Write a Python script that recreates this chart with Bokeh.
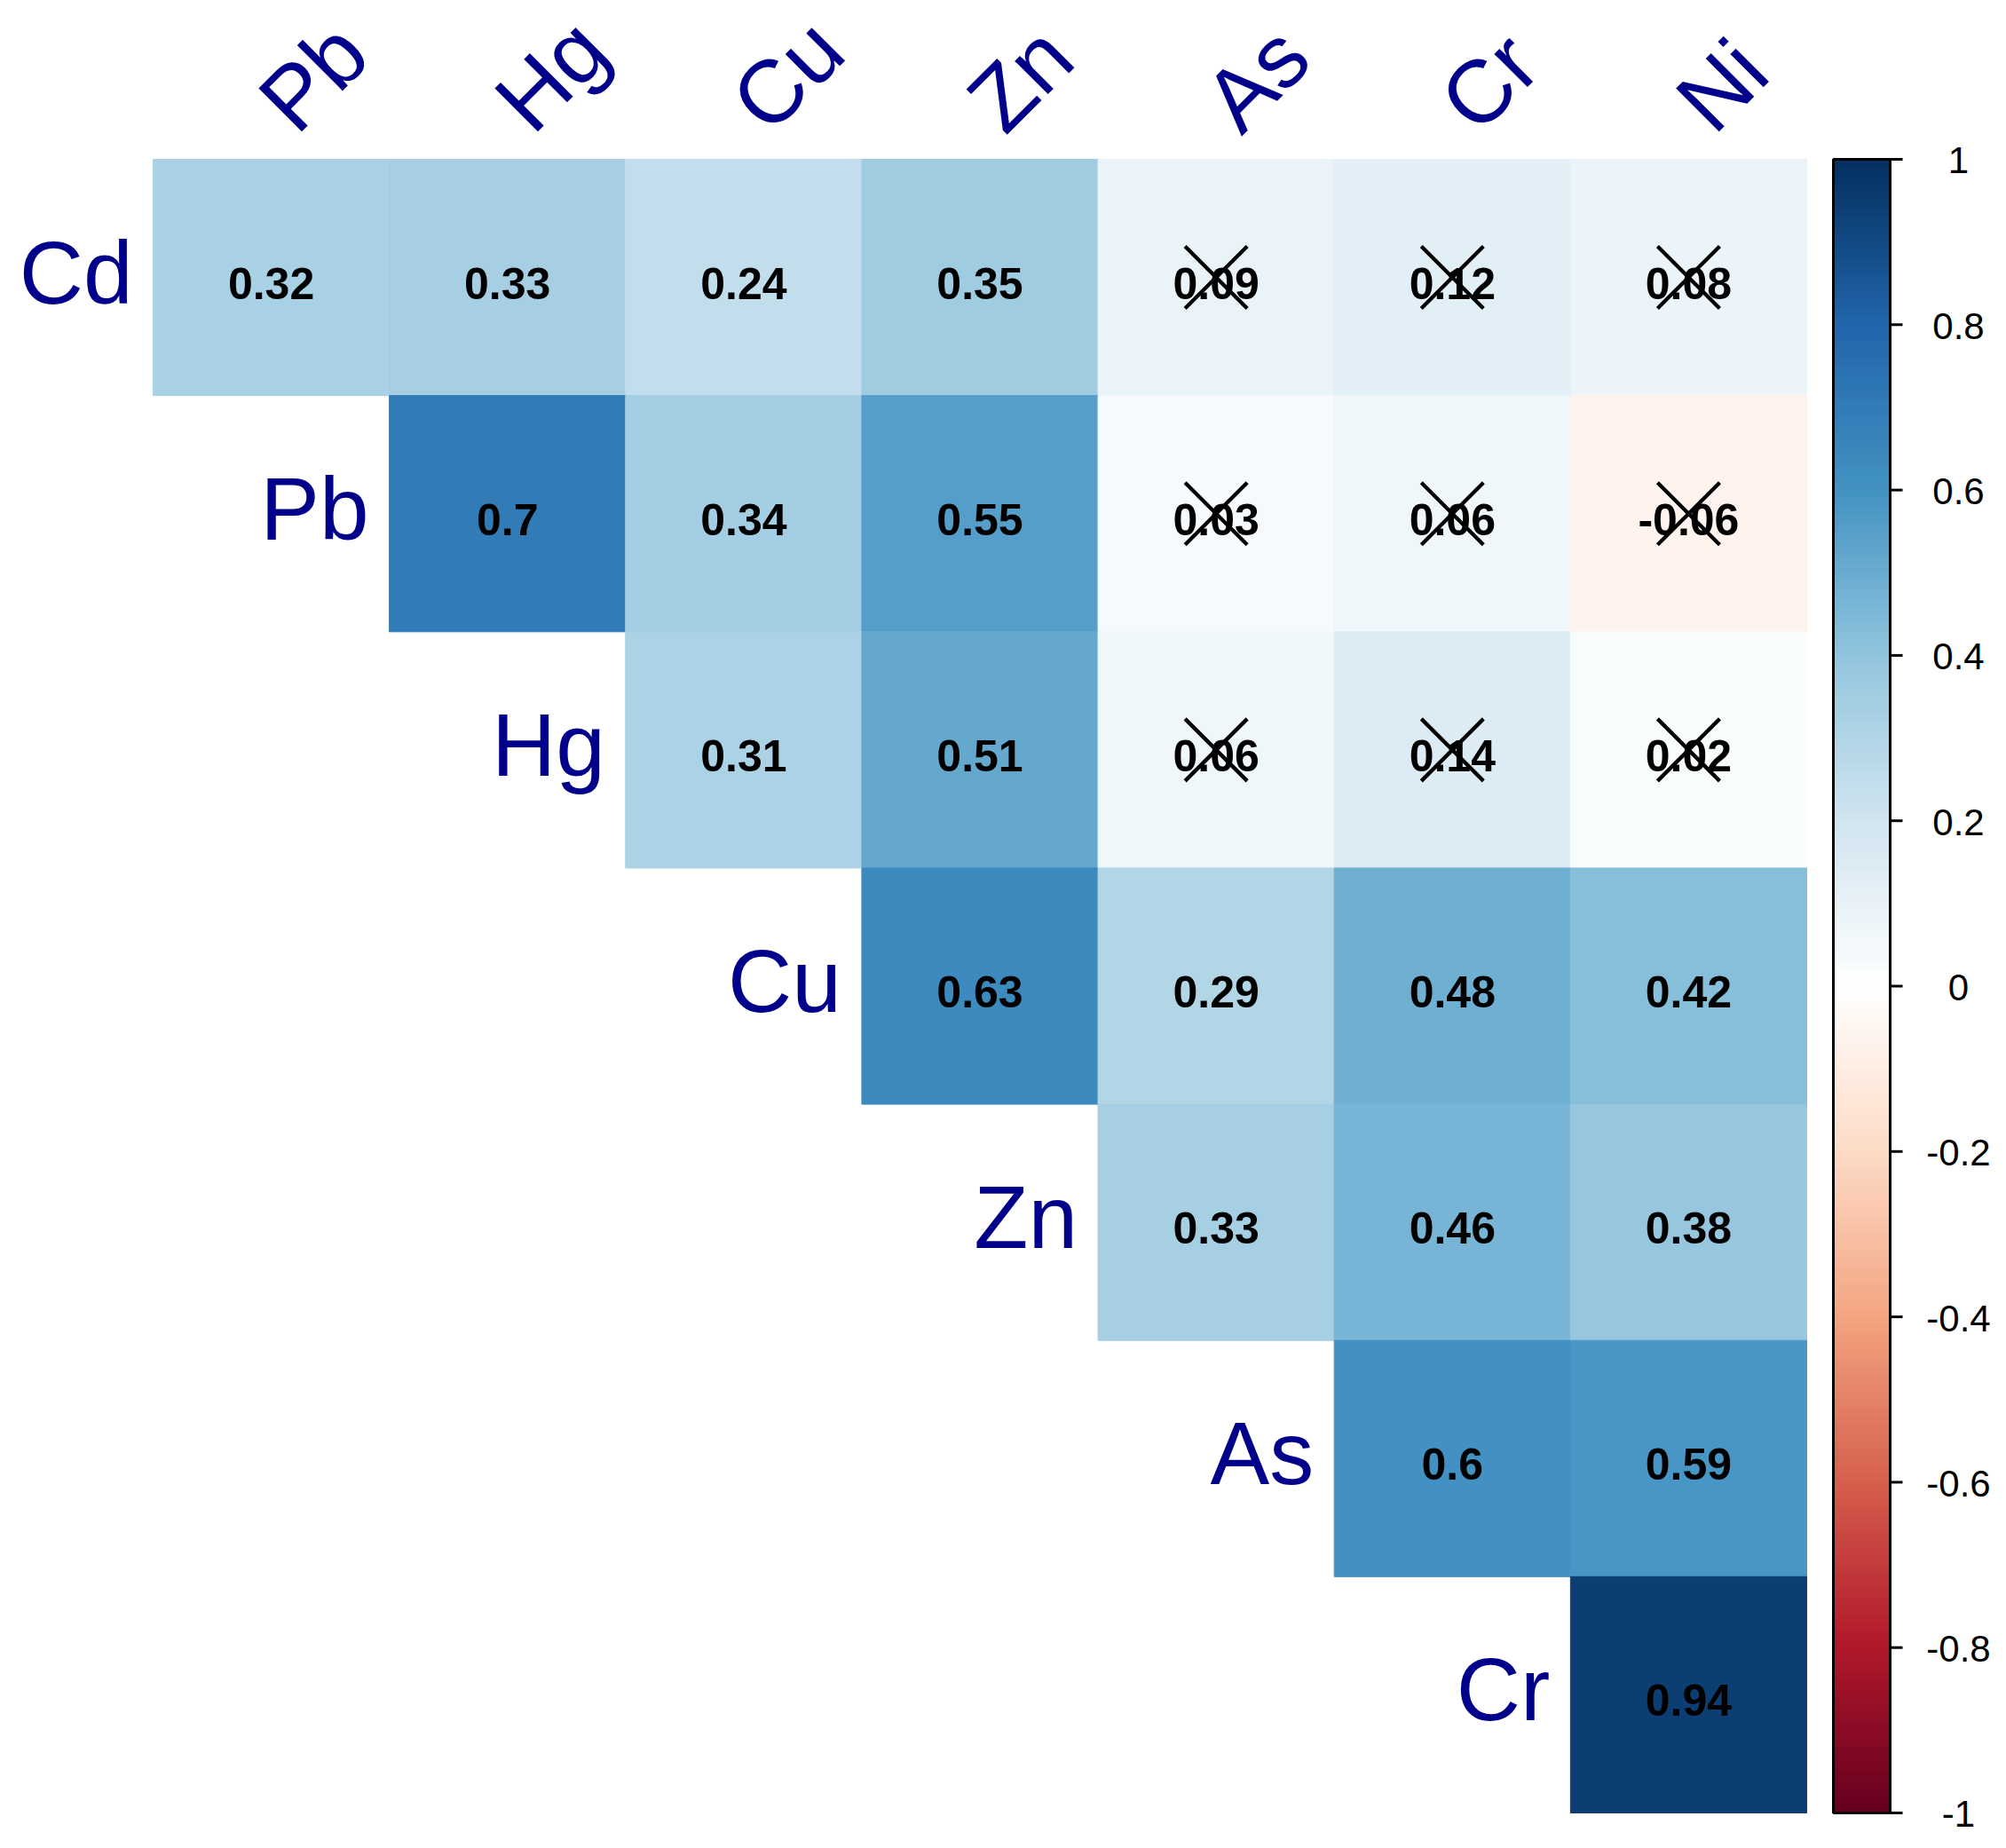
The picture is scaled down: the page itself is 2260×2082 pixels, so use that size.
import numpy as np
from bokeh.plotting import figure
from bokeh.models import ColumnDataSource, LinearColorMapper
from bokeh.transform import transform
from bokeh.core.properties import value
from bokeh.embed import file_html
from bokeh.resources import INLINE

# ---------------- data ----------------
VARS = ["Cd", "Pb", "Hg", "Cu", "Zn", "As", "Cr", "Ni"]
ROW_LABELS = VARS[:-1]
COL_LABELS = VARS[1:]

# upper-triangle correlations, row by row (row variable vs. following variables)
R_CD = [0.32, 0.33, 0.24, 0.35, 0.09, 0.12, 0.08]
R_PB = [0.70, 0.34, 0.55, 0.03, 0.06, -0.06]
R_HG = [0.31, 0.51, 0.06, 0.14, 0.02]
R_CU = [0.63, 0.29, 0.48, 0.42]
R_ZN = [0.33, 0.46, 0.38]
R_AS = [0.60, 0.59]
R_CR = [0.94]
ROWS = [R_CD, R_PB, R_HG, R_CU, R_ZN, R_AS, R_CR]

# pairs that are not significant (crossed out)
NOT_SIGNIFICANT = [("Cd", "As"), ("Cd", "Cr"), ("Cd", "Ni"),
                   ("Pb", "As"), ("Pb", "Cr"), ("Pb", "Ni"),
                   ("Hg", "As"), ("Hg", "Cr"), ("Hg", "Ni")]

CB_TICKS = [-1.0, -0.8, -0.6, -0.4, -0.2, 0.0, 0.2, 0.4, 0.6, 0.8, 1.0]
CB_LABELS = ["-1", "-0.8", "-0.6", "-0.4", "-0.2", "0", "0.2", "0.4", "0.6", "0.8", "1"]

# ---------------- style / palette ----------------
RDBU_STOPS = ["#67001F", "#B2182B", "#D6604D", "#F4A582", "#FDDBC7", "#FFFFFF",
              "#D1E5F0", "#92C5DE", "#4393C3", "#2166AC", "#053061"]


def ramp(stops, n):
    rgb = np.array([[int(c[i:i + 2], 16) for i in (1, 3, 5)] for c in stops], float)
    pos = np.linspace(0, len(stops) - 1, n)
    out = []
    for p_ in pos:
        k = min(int(np.floor(p_)), len(stops) - 2)
        f = p_ - k
        c = rgb[k] * (1 - f) + rgb[k + 1] * f
        out.append("#%02X%02X%02X" % tuple(int(round(v)) for v in c))
    return out


PALETTE = ramp(RDBU_STOPS, 200)
mapper = LinearColorMapper(palette=PALETTE, low=-1, high=1)

LABEL_COLOR = "#00008B"
FONT = value("Liberation Sans")
SHIFT = 0.37  # em: empirical correction of the rendered baseline

# ---------------- layout (pixels) ----------------
W, H = 2252, 2074
N = len(COL_LABELS)
GRID_PX = 1863
GRID_LEFT = 172
GRID_TOP = 179
S = GRID_PX / N  # pixels per data unit

x_start = -GRID_LEFT / S
x_end = x_start + W / S
y_end = N + GRID_TOP / S
y_start = y_end - H / S

CELL_FS = 50
LAB_FS = 100
CB_FS = 42

# ---------------- cells ----------------
cx, cy, cr, ctext = [], [], [], []
for i, row in enumerate(ROWS):
    for k, r in enumerate(row):
        j = i + k
        cx.append(j + 0.5)
        cy.append(N - i - 0.5)
        cr.append(r)
        ctext.append(f"{r:g}")
cell_dy = (25 - SHIFT * CELL_FS) / S
cells = ColumnDataSource(dict(x=cx, y=cy, r=cr, t=ctext,
                              ty=[v - cell_dy for v in cy]))

xx, xy = [], []
for a, b in NOT_SIGNIFICANT:
    i = VARS.index(a)
    j = VARS.index(b) - 1
    xx.append(j + 0.5)
    xy.append(N - i - 0.5)

p = figure(width=W, height=H, x_range=(x_start, x_end), y_range=(y_start, y_end),
           x_axis_location=None, y_axis_location=None, toolbar_location=None,
           output_backend="svg", min_border=0, min_border_left=0, min_border_right=0,
           min_border_top=0, min_border_bottom=0)
p.outline_line_color = None
p.xgrid.visible = False
p.ygrid.visible = False
p.background_fill_color = "white"
p.border_fill_color = "white"

p.rect(x="x", y="y", width=1, height=1, source=cells,
       fill_color=transform("r", mapper), line_color=transform("r", mapper), line_width=1)

p.text(x="x", y="ty", text="t", source=cells, text_align="center",
       text_baseline="alphabetic", text_font=FONT, text_font_style="bold",
       text_font_size=f"{CELL_FS}px", text_color="black")

p.scatter(x=xx, y=xy, marker="x", size=99, line_color="black", line_width=4.3)

# row labels (left of first cell of each row)
row_dy = (31 - SHIFT * LAB_FS) / S
row_x = [i - 23 / S for i in range(N)]
row_y = [N - i - 0.5 - row_dy for i in range(N)]
p.text(x=row_x, y=row_y, text=ROW_LABELS, text_align="right", text_baseline="alphabetic",
       text_font=FONT, text_font_size=f"{LAB_FS}px", text_color=LABEL_COLOR)

# column labels (rotated 45 degrees, above grid)
rot_corr = SHIFT * LAB_FS * np.sqrt(0.5)
col_x = [j + 0.5 + (30 - rot_corr) / S for j in range(N)]
col_y = [N + (24 + rot_corr) / S] * N
p.text(x=col_x, y=col_y, text=COL_LABELS, angle=np.pi / 4, text_align="left",
       text_baseline="alphabetic", text_font=FONT, text_font_size=f"{LAB_FS}px",
       text_color=LABEL_COLOR)

# ---------------- colour bar ----------------
cb_x0 = N + 30 / S
cb_x1 = cb_x0 + 64 / S
tick_x1 = cb_x1 + 14 / S
lab_x = N + 171 / S
grad = np.linspace(-1 + 0.005, 1 - 0.005, 200).reshape(200, 1)
p.image(image=[grad], x=cb_x0, y=0, dw=cb_x1 - cb_x0, dh=N, color_mapper=mapper)
p.quad(left=[cb_x0], right=[cb_x1], bottom=[0], top=[N], fill_color=None,
       line_color="black", line_width=3)
tick_y = [(t + 1) / 2 * N for t in CB_TICKS]
p.segment(x0=[cb_x1] * len(tick_y), x1=[tick_x1] * len(tick_y), y0=tick_y, y1=tick_y,
          line_color="black", line_width=3)
cb_dy = (17 - SHIFT * CB_FS) / S
p.text(x=[lab_x] * len(tick_y), y=[v - cb_dy for v in tick_y], text=CB_LABELS,
       text_align="center", text_baseline="alphabetic", text_font=FONT,
       text_font_size=f"{CB_FS}px", text_color="black")

open("out.html", "w").write(file_html(p, INLINE))
